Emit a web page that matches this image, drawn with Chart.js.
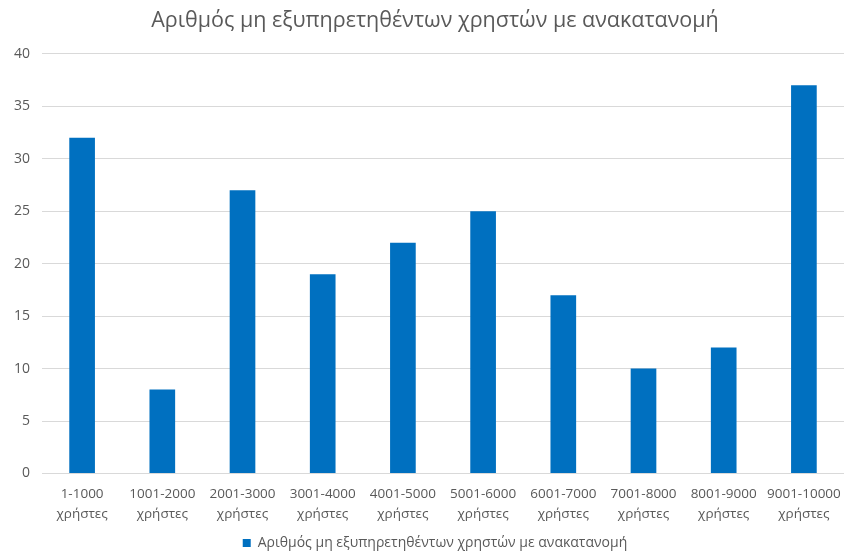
<!DOCTYPE html>
<html>
<head>
<meta charset="utf-8">
<script src="https://cdn.jsdelivr.net/npm/chart.js@4/dist/chart.umd.min.js"></script>
<style>
  html, body { margin: 0; padding: 0; background: #fff; }
  #wrap { width: 844px; height: 551px; }
</style>
</head>
<body>
<div id="wrap"><canvas id="chart" width="844" height="551"></canvas></div>
<script>
const categories = [
  ["1-1000", "χρήστες"], ["1001-2000", "χρήστες"], ["2001-3000", "χρήστες"],
  ["3001-4000", "χρήστες"], ["4001-5000", "χρήστες"], ["5001-6000", "χρήστες"],
  ["6001-7000", "χρήστες"], ["7001-8000", "χρήστες"], ["8001-9000", "χρήστες"],
  ["9001-10000", "χρήστες"]
];
const unservedUsers = [32, 8, 27, 19, 22, 25, 17, 10, 12, 37];
const seriesName = "Αριθμός μη εξυπηρετηθέντων χρηστών με ανακατανομή";
const chartTitle = "Αριθμός μη εξυπηρετηθέντων χρηστών με ανακατανομή";

const textColor = "#595959";
const fontFamily = "'Open Sans', 'Noto Sans', sans-serif";

new Chart(document.getElementById("chart"), {
  type: "bar",
  data: {
    labels: categories,
    datasets: [{
      label: seriesName,
      data: unservedUsers,
      backgroundColor: "#0070C0",
      categoryPercentage: 1,
      barPercentage: 0.32
    }]
  },
  options: {
    responsive: false,
    animation: false,
    // negative right padding only widens title/legend boxes, nudging them right
    layout: { padding: { left: 2, right: -24, top: 6, bottom: -9 } },
    plugins: {
      title: {
        display: true,
        text: chartTitle,
        color: textColor,
        font: { family: fontFamily, size: 21.5, weight: "normal" },
        padding: { top: 2, bottom: 20 }
      },
      legend: {
        position: "bottom",
        labels: {
          color: textColor,
          font: { family: fontFamily, size: 14 },
          boxWidth: 8,
          boxHeight: 8,
          padding: 1
        }
      },
      tooltip: { enabled: false }
    },
    scales: {
      x: {
        grid: { display: false, drawTicks: false },
        border: { color: "#d9d9d9" },
        ticks: {
          color: textColor,
          font: { family: fontFamily, size: 13.5, lineHeight: 1.5 },
          maxRotation: 0,
          autoSkip: false,
          padding: 10.5
        },
        // let the last label run to the edge instead of shrinking the plot
        afterFit: (scale) => { scale.paddingRight = 0; }
      },
      y: {
        min: 0,
        max: 40,
        ticks: {
          stepSize: 5,
          color: textColor,
          font: { family: fontFamily, size: 14 },
          padding: 12
        },
        grid: { color: "#d9d9d9", drawTicks: false },
        border: { display: false }
      }
    }
  }
});
</script>
</body>
</html>
